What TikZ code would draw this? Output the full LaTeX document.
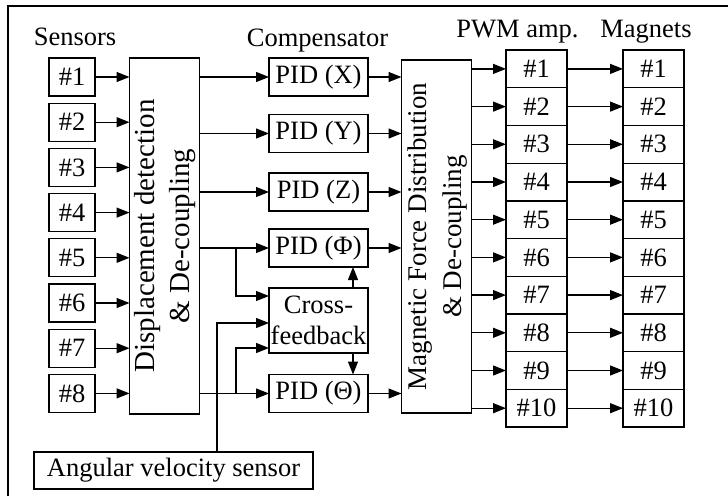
\documentclass[tikz,border=0pt]{standalone}
\usepackage{fontspec}
\setmainfont{Liberation Serif}
\usetikzlibrary{arrows.meta,positioning}

\begin{document}
\begin{tikzpicture}[x=1pt,y=-1pt,>={Triangle[length=13pt,width=10pt]},line width=1.3pt]
        \tikzset{blk/.style={draw,inner sep=0pt,outer sep=0pt,align=center,font=\fontsize{26.5}{31}\selectfont},
          sens/.style={blk,minimum width=46pt,minimum height=38pt},
          pid/.style={blk,minimum width=99pt,minimum height=38pt},
          chan/.style={blk,minimum width=61pt,minimum height=37.7pt},
          head/.style={anchor=base,inner sep=0pt,font=\fontsize{26.5}{31}\selectfont}}
        \useasboundingbox (0,0) rectangle (728,496);
        \draw (8,496) -- (8,6) -- (728,6);
        % column titles
        \node[head] (lsens) at (75,45.5) {Sensors};
        \node[head] (lcomp) at (317.5,46) {Compensator};
        \node[head] (lpwm) at (517.5,37) {PWM amp.};
        \node[head] (lmag) at (646,37) {Magnets};
        % sensors and displacement block
        \node[sens] (s1) at (72,77) {\#1};
        \foreach \i [remember=\i as \j (initially 1)] in {2,...,8}{\node[sens,below=7.2pt of s\j] (s\i) {\#\i};}
        \node[blk,minimum width=63pt,minimum height=356pt] (disp) at (164.5,236) {\rotatebox{90}{\fontsize{29}{35}\selectfont\begin{tabular}{@{}c@{}}Displacement detection\\ \& De-coupling\end{tabular}}};
        \foreach \i in {1,...,8}{\draw[->] (s\i) -- (s\i -| disp.west);}
        % compensators
        \node[pid] (pidX) at (318.5,77) {PID (X)};
        \node[pid] (pidY) at (318.5,133.5) {PID (Y)};
        \node[pid] (pidZ) at (318.5,192) {PID (Z)};
        \node[pid] (pidF) at (318.5,248) {PID (Φ)};
        \node[pid,minimum height=65pt] (cf) at (318.5,320.5) {Cross-\\feedback};
        \node[pid] (pidT) at (318.5,393.5) {PID (Θ)};
        \node[blk,minimum width=279pt,minimum height=37pt] (ang) at (173.5,470.5) {Angular velocity sensor};
        \foreach \n in {X,Y,Z,F,T}{\draw[->] (disp.east |- pid\n) -- (pid\n);}
        \coordinate (bF) at ([xshift=-33pt]pidF.west);
        \coordinate (bT) at ([xshift=-33pt]pidT.west);
        \draw[->] (bF) |- ([yshift=24.5pt]cf.west);
        \draw[->] ([xshift=43.5pt]ang.north) |- ([yshift=-2.5pt]cf.west);
        \draw[->] (bT) |- ([yshift=-27.5pt]cf.west);
        \draw[->] ([xshift=34.5pt]cf.north) -- ([xshift=34.5pt]pidF.south);
        \draw[->] ([xshift=34.5pt]cf.south) -- ([xshift=34.5pt]pidT.north);
        % force distribution, amplifiers and magnets
        \node[blk,minimum width=65pt,minimum height=353pt] (mag) at (436.5,236.5) {\rotatebox{90}{\fontsize{27}{35}\selectfont\begin{tabular}{@{}c@{}}Magnetic Force Distribution\\ \& De-coupling\end{tabular}}};
        \foreach \n in {X,Y,Z,F,T}{\draw[->] (pid\n) -- (pid\n -| mag.west);}
        \node[chan] (p1) at (536.5,68.9) {\#1};
        \node[chan] (m1) at (653.5,68.9) {\#1};
        \foreach \i [remember=\i as \j (initially 1)] in {2,...,10}{
          \node[chan,below=0pt of p\j] (p\i) {\#\i};
          \node[chan,below=0pt of m\j] (m\i) {\#\i};}
        \foreach \i in {1,...,10}{\draw[->] (mag.east |- p\i) -- (p\i); \draw[->] (p\i) -- (m\i);}
      \end{tikzpicture}
\end{document}
